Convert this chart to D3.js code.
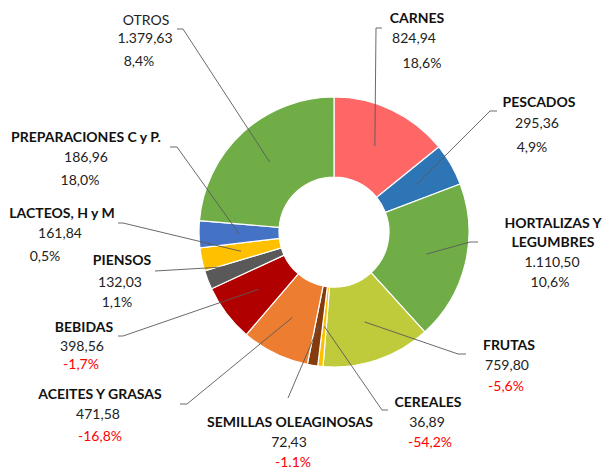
<!DOCTYPE html>
<html>
<head>
<meta charset="utf-8">
<script src="https://cdn.jsdelivr.net/npm/d3@7"></script>
<style>
  body { margin: 0; background: #fff; }
  svg { display: block; font-family: Lato, "Open Sans", sans-serif; }
  .name { font-weight: bold; font-size: 14px; fill: #111; }
  .name.plain { font-weight: normal; fill: #222; }
  .val { font-size: 14px; fill: #222; }
  .pct { font-size: 14px; }
</style>
</head>
<body>
<script>
// Data
const categories = ['CARNES', 'PESCADOS', 'HORTALIZAS Y\nLEGUMBRES', 'FRUTAS', 'CEREALES',
  'SEMILLAS OLEAGINOSAS', 'ACEITES Y GRASAS', 'BEBIDAS', 'PIENSOS', 'LACTEOS, H y M',
  'PREPARACIONES C y P.', 'OTROS'];
const values = [824.94, 295.36, 1110.50, 759.80, 36.89, 72.43, 471.58, 398.56, 132.03, 161.84, 186.96, 1379.63];
const valueLabels = ['824,94', '295,36', '1.110,50', '759,80', '36,89', '72,43', '471,58', '398,56',
  '132,03', '161,84', '186,96', '1.379,63'];
const pctLabels = ['18,6%', '4,9%', '10,6%', '-5,6%', '-54,2%', '-1.1%', '-16,8%', '-1,7%',
  '1,1%', '0,5%', '18,0%', '8,4%'];
const colors = ['#ff6666', '#2e75b6', '#70ad47', '#bfcb3a', '#ffc000', '#843c0c', '#ed7d31',
  '#b00000', '#595959', '#ffc000', '#4472c4', '#70ad47'];

// Label layout: name/value/pct anchors [x, baseline], leader elbow and end
const layout = [
  { name: [417, 23], val: [414, 43], pct: [422, 68], elbow: [376, 28], end: [382, 28] },
  { name: [539, 107], val: [537, 128], pct: [532, 152], elbow: [490, 111], end: [497, 111] },
  { name: [553, 228], val: [552, 267], pct: [550, 287], elbow: [470, 242], end: [478, 242] },
  { name: [509, 350], val: [507, 370], pct: [506, 391], elbow: [458, 354], end: [466, 354] },
  { name: [428, 407], val: [427, 427], pct: [430, 447], elbow: [382, 410], end: [388, 410] },
  { name: [290, 427], val: [289, 447], pct: [293, 467], elbow: [288, 398], end: [288, 398] },
  { name: [100, 399], val: [98, 419], pct: [100, 441], elbow: [187, 404], end: [180, 404] },
  { name: [84, 332], val: [82, 351], pct: [81, 369], elbow: [123, 336], end: [118, 336] },
  { name: [122, 265], val: [120, 287], pct: [117, 307], elbow: [155, 271], end: [155, 271] },
  { name: [62, 218], val: [60, 238], pct: [45, 261], elbow: [123, 223], end: [118, 223] },
  { name: [86, 142], val: [86, 162], pct: [80, 185], elbow: [177, 147], end: [170, 147] },
  { name: [146, 25], val: [145, 43], pct: [139, 66], elbow: [183, 29], end: [177, 29], plain: true }
];

const width = 602, height = 470;
const cx = 334, cy = 232, outerR = 135, innerR = 55;

const svg = d3.select('body').append('svg')
  .attr('width', width)
  .attr('height', height);

const pie = d3.pie().sort(null).value(d => d);
const arcs = pie(values);
const arc = d3.arc().innerRadius(innerR).outerRadius(outerR);

const g = svg.append('g').attr('transform', `translate(${cx},${cy})`);

g.selectAll('path.slice')
  .data(arcs)
  .enter().append('path')
  .attr('class', 'slice')
  .attr('d', arc)
  .attr('fill', (d, i) => colors[i])
  .attr('stroke', '#fff')
  .attr('stroke-width', 1.2);

// Leader lines
const line = d3.line();
svg.selectAll('path.leader')
  .data(arcs)
  .enter().append('path')
  .attr('class', 'leader')
  .attr('d', (d, i) => {
    const c = arc.centroid(d);
    const L = layout[i];
    return line([[c[0] + cx, c[1] + cy], L.elbow, L.end]);
  })
  .attr('fill', 'none')
  .attr('stroke', '#595959')
  .attr('stroke-width', 0.9);

// Labels
categories.forEach((name, i) => {
  const L = layout[i];
  const lines = name.split('\n');
  lines.forEach((t, j) => {
    svg.append('text')
      .attr('class', L.plain ? 'name plain' : 'name')
      .attr('x', L.name[0])
      .attr('y', L.name[1] + j * 19)
      .attr('text-anchor', 'middle')
      .text(t);
  });
  svg.append('text')
    .attr('class', 'val')
    .attr('x', L.val[0])
    .attr('y', L.val[1])
    .attr('text-anchor', 'middle')
    .text(valueLabels[i]);
  svg.append('text')
    .attr('class', 'pct')
    .attr('x', L.pct[0])
    .attr('y', L.pct[1])
    .attr('text-anchor', 'middle')
    .attr('fill', pctLabels[i].startsWith('-') ? '#ff0000' : '#222')
    .text(pctLabels[i]);
});
</script>
</body>
</html>
